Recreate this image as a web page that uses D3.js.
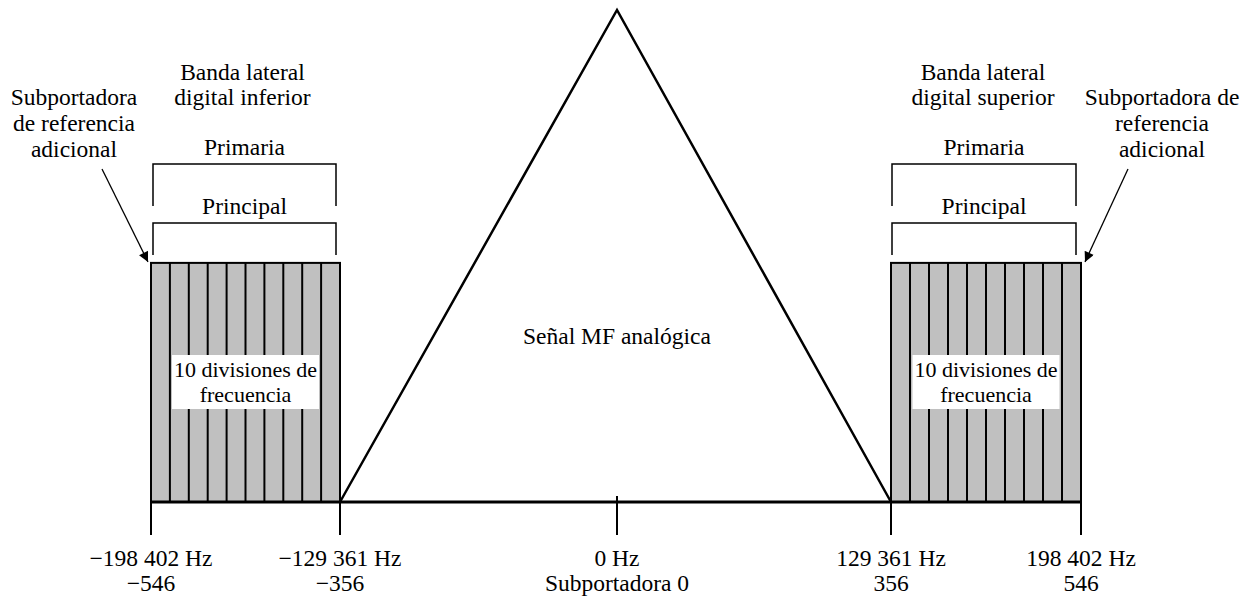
<!DOCTYPE html>
<html>
<head>
<meta charset="utf-8">
<script src="https://cdn.jsdelivr.net/npm/d3@7"></script>
<style>
  html, body { margin: 0; padding: 0; background: #fff; }
  svg text { font-family: "Liberation Serif", "Times New Roman", "DejaVu Serif", serif; fill: #000; }
</style>
</head>
<body>
<svg id="chart" width="1252" height="598"></svg>
<script>
// ---- data ----
const tickSubcarriers = [-546, -356, 0, 356, 546];
const tickHzLabels = ["\u2212198 402 Hz", "\u2212129 361 Hz", "0 Hz", "129 361 Hz", "198 402 Hz"];
const tickSubLabels = ["\u2212546", "\u2212356", "Subportadora 0", "356", "546"];
const sidebands = [
  { name: "lower", from: -546, to: -356, title: ["Banda lateral", "digital inferior"], refAt: -546,
    refLabel: ["Subportadora", "de referencia", "adicional"] },
  { name: "upper", from: 356, to: 546, title: ["Banda lateral", "digital superior"], refAt: 546,
    refLabel: ["Subportadora de", "referencia", "adicional"] }
];
const divisionCount = 10;
const sidebandLevel = 0.486;
const analogPeak = [[-356, 0], [0, 1], [356, 0]];
const bracketLabels = ["Primaria", "Principal"];
const analogLabel = "Se\u00f1al MF anal\u00f3gica";
const divisionLabel = ["10 divisiones de", "frecuencia"];

// ---- scales ----
const x = d3.scaleLinear().domain(tickSubcarriers).range([151, 340, 617, 891, 1081]);
const y = d3.scaleLinear().domain([0, 1]).range([502, 10]);

const svg = d3.select("#chart");
const FS = 23.5;
const FS_BOX = 22;

// sideband blocks
sidebands.forEach(sb => {
  const g = svg.append("g");
  const x0 = x(sb.from), x1 = x(sb.to);
  g.append("rect").attr("x", x0).attr("y", y(sidebandLevel))
    .attr("width", x1 - x0).attr("height", y(0) - y(sidebandLevel))
    .attr("fill", "#c0c0c0").attr("stroke", "#000").attr("stroke-width", 2);
  const step = (sb.to - sb.from) / divisionCount;
  const bounds = d3.range(1, divisionCount).map(i => sb.from + i * step);
  g.selectAll("line.div").data(bounds).join("line")
    .attr("x1", d => x(d)).attr("x2", d => x(d))
    .attr("y1", y(sidebandLevel)).attr("y2", y(0))
    .attr("stroke", "#000").attr("stroke-width", 2);

  // division label with white background
  const cx = (x0 + x1) / 2;
  const tg = g.append("g");
  const t = tg.append("text").attr("text-anchor", "middle").attr("font-size", FS_BOX);
  t.selectAll("tspan").data(divisionLabel).join("tspan")
    .attr("x", cx).attr("y", (d, i) => 377 + i * 25).text(d => d);
  const bb = t.node().getBBox();
  tg.insert("rect", "text").attr("x", bb.x - 2).attr("y", 355)
    .attr("width", bb.width + 4).attr("height", 54).attr("fill", "#fff");

  // brackets
  const bl = sb.name === "lower" ? x0 + 2 : x0 + 1;
  const br = sb.name === "lower" ? x1 - 4 : x1 - 5;
  const bracketY = [164, 223];
  const bracketBottom = [206, 255];
  bracketLabels.forEach((lab, i) => {
    g.append("path")
      .attr("d", `M${bl},${bracketBottom[i]}V${bracketY[i]}H${br}V${bracketBottom[i]}`)
      .attr("fill", "none").attr("stroke", "#000").attr("stroke-width", 1.5);
    g.append("text").attr("x", (bl + br) / 2).attr("y", bracketY[i] - 9)
      .attr("text-anchor", "middle").attr("font-size", FS).text(lab);
  });

  // sideband title
  g.append("text").attr("text-anchor", "middle").attr("font-size", FS)
    .selectAll("tspan").data(sb.title).join("tspan")
    .attr("x", cx - 3).attr("y", (d, i) => 80 + i * 25).text(d => d);
});

// reference subcarrier labels + arrows
svg.append("defs").append("marker").attr("id", "arrow")
  .attr("viewBox", "0 0 10 10").attr("refX", 10).attr("refY", 5)
  .attr("markerWidth", 16).attr("markerHeight", 10).attr("markerUnits", "userSpaceOnUse")
  .attr("orient", "auto")
  .append("path").attr("d", "M0,0L10,5L0,10Z").attr("fill", "#000");

sidebands.forEach(sb => {
  const isLower = sb.name === "lower";
  const lx = isLower ? 74 : 1162;
  svg.append("text").attr("text-anchor", "middle").attr("font-size", FS)
    .selectAll("tspan").data(sb.refLabel).join("tspan")
    .attr("x", lx).attr("y", (d, i) => 105 + i * 26).text(d => d);
  const tipX = isLower ? x(sb.refAt) - 3 : x(sb.refAt) + 4;
  const startX = isLower ? 102 : 1128;
  svg.append("line").attr("x1", startX).attr("y1", 169)
    .attr("x2", tipX).attr("y2", y(sidebandLevel) - 1)
    .attr("stroke", "#000").attr("stroke-width", 1.3).attr("marker-end", "url(#arrow)");
});

// analog triangle
svg.append("path")
  .attr("d", d3.line().x(d => x(d[0])).y(d => y(d[1]))(analogPeak))
  .attr("fill", "none").attr("stroke", "#000").attr("stroke-width", 2.5)
  .attr("stroke-linejoin", "miter");
svg.append("text").attr("x", x(0)).attr("y", 344).attr("text-anchor", "middle")
  .attr("font-size", FS).text(analogLabel);

// axis baseline
svg.append("line").attr("x1", x(-546)).attr("x2", x(546))
  .attr("y1", y(0)).attr("y2", y(0)).attr("stroke", "#000").attr("stroke-width", 3);

// axis ticks & labels
const ticks = svg.append("g").selectAll("g").data(tickSubcarriers).join("g")
  .attr("transform", d => `translate(${x(d)},0)`);
ticks.append("line").attr("y1", (d) => d === 0 ? y(0) - 6 : y(0)).attr("y2", 535)
  .attr("stroke", "#000").attr("stroke-width", 2);
ticks.append("text").attr("text-anchor", "middle").attr("font-size", FS).attr("y", 566)
  .text((d, i) => tickHzLabels[i]);
ticks.append("text").attr("text-anchor", "middle").attr("font-size", FS).attr("y", 591)
  .text((d, i) => tickSubLabels[i]);
</script>
</body>
</html>
